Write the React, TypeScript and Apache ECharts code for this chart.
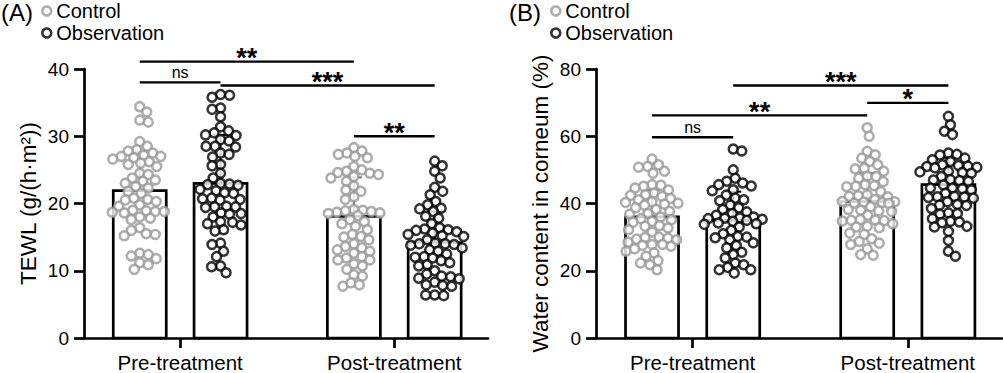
import React, { useEffect, useRef } from "react";
import * as echarts from "echarts";

// ---------- DATA ----------
const timepoints = ["Pre-treatment", "Post-treatment"];
const groupNames = ["Control", "Observation"];

// Panel A: TEWL g/(h·m²)
const tewlMeans = [21.9, 23.0, 18.1, 14.2]; // ctrl pre, obs pre, ctrl post, obs post
const tewlSD = [5.8, 7.2, 5.8, 4.6];
const tewlCtrlPre = [34.4, 33.6, 32.4, 32.1, 29.2, 28.5, 28.0, 27.8, 27.5, 27.2, 27.0, 27.0, 26.8, 26.6, 26.2, 26.0, 25.8, 25.5, 24.5, 24.3, 23.8, 23.5, 23.3, 23.0, 22.5, 22.3, 21.8, 21.5, 20.8, 20.6, 20.5, 20.3, 19.8, 19.6, 19.0, 18.9, 18.8, 18.8, 18.7, 18.6, 18.0, 17.8, 17.6, 16.4, 16.0, 15.5, 15.4, 15.2, 12.6, 12.4, 12.2, 11.8, 11.2, 10.9, 10.2];
const tewlObsPre = [36.2, 36.1, 35.8, 34.2, 34.0, 32.9, 31.4, 30.8, 30.5, 30.2, 30.1, 29.5, 29.3, 28.5, 28.5, 28.4, 27.5, 27.3, 26.9, 25.8, 25.6, 24.5, 23.8, 23.0, 22.9, 22.8, 22.7, 22.1, 21.9, 21.6, 21.5, 20.8, 20.7, 20.6, 20.5, 19.6, 19.5, 19.5, 19.4, 18.6, 18.5, 18.4, 18.0, 17.3, 17.2, 17.0, 16.8, 16.1, 15.9, 14.1, 13.9, 12.9, 12.1, 10.7, 10.6, 9.7];
const tewlCtrlPost = [28.3, 27.8, 27.5, 27.3, 27.0, 26.8, 25.5, 25.0, 24.8, 24.6, 24.5, 24.3, 24.0, 23.8, 23.3, 22.6, 22.0, 21.8, 21.0, 20.6, 19.1, 19.0, 18.9, 18.8, 18.7, 18.6, 18.5, 18.2, 17.6, 17.3, 17.0, 16.6, 16.1, 15.4, 15.1, 15.0, 14.6, 14.0, 13.6, 13.4, 13.1, 12.9, 12.6, 12.1, 11.9, 11.6, 11.6, 11.0, 10.7, 10.2, 9.4, 9.2, 8.2, 7.9, 7.7];
const tewlObsPost = [26.3, 25.6, 24.8, 23.8, 22.4, 21.8, 21.3, 20.3, 19.8, 19.3, 19.2, 18.8, 18.1, 17.8, 17.0, 16.4, 16.2, 16.1, 16.0, 15.8, 15.6, 15.4, 15.2, 15.1, 14.6, 14.1, 14.0, 14.0, 13.9, 13.8, 13.4, 13.1, 12.9, 12.5, 12.1, 12.0, 11.9, 11.5, 11.2, 10.9, 10.7, 10.0, 9.5, 9.2, 9.1, 8.9, 8.8, 8.3, 7.9, 7.8, 7.7, 6.4, 6.4, 6.3];

// Panel B: water content in corneum (%)
const waterMeans = [36.0, 35.0, 40.6, 45.6];
const waterSD = [8.0, 8.5, 8.5, 8.0];
const waterCtrlPre = [53.2, 51.5, 51.0, 50.8, 49.6, 49.0, 45.6, 45.4, 45.1, 44.6, 44.0, 43.1, 42.6, 42.4, 42.1, 41.5, 41.1, 40.5, 40.3, 40.1, 39.8, 39.5, 38.7, 38.2, 37.7, 37.0, 36.8, 36.0, 35.5, 35.2, 34.7, 34.4, 33.4, 33.2, 32.7, 32.2, 31.5, 30.0, 29.9, 29.7, 29.4, 29.2, 28.5, 27.8, 27.8, 27.5, 27.3, 26.5, 25.8, 25.3, 24.3, 23.0, 22.3, 21.8, 20.3];
const waterObsPre = [56.2, 55.6, 50.0, 47.5, 46.6, 46.1, 45.6, 45.2, 44.1, 43.8, 42.5, 41.6, 41.1, 40.8, 39.5, 38.7, 38.2, 37.5, 37.0, 36.5, 36.0, 35.7, 35.6, 35.5, 35.3, 35.0, 34.7, 34.2, 34.0, 33.8, 33.0, 32.0, 31.0, 30.2, 30.0, 29.8, 29.2, 28.3, 27.5, 26.8, 25.5, 24.8, 23.8, 22.3, 21.8, 21.0, 20.3, 20.3, 19.3];
const waterCtrlPost = [62.5, 60.0, 55.5, 54.5, 53.5, 52.5, 51.5, 50.5, 50.3, 49.6, 48.1, 48.0, 47.5, 46.5, 45.6, 45.3, 45.1, 45.0, 43.5, 42.6, 42.3, 42.1, 42.0, 41.2, 40.6, 40.5, 40.4, 40.3, 40.1, 40.0, 39.0, 38.2, 38.0, 37.8, 37.6, 36.5, 35.2, 35.1, 35.0, 34.9, 34.8, 34.0, 33.2, 33.0, 32.8, 31.2, 30.8, 29.5, 28.7, 28.2, 27.8, 26.5, 24.8, 24.6];
const waterObsPost = [65.9, 63.4, 61.5, 60.5, 55.0, 54.6, 54.4, 53.5, 53.0, 52.5, 51.5, 51.3, 51.1, 51.0, 50.8, 50.6, 49.6, 49.4, 49.2, 49.0, 48.0, 47.1, 47.0, 46.8, 46.6, 45.5, 44.6, 44.6, 44.4, 44.1, 43.0, 42.1, 42.0, 41.9, 41.8, 41.6, 40.5, 39.7, 39.5, 39.4, 38.5, 37.2, 37.0, 36.8, 35.5, 34.7, 34.5, 34.3, 33.2, 33.0, 31.7, 29.0, 25.8, 24.3];

// Significance brackets: from group index, to group index, height (axis value), label
const sigAFrom = [0, 0, 1, 2];
const sigATo = [2, 1, 3, 3];
const sigAY = [41.1, 38.0, 37.55, 30.0];
const sigALabel = ["**", "ns", "***", "**"];

const sigBFrom = [0, 0, 1, 2];
const sigBTo = [1, 2, 3, 3];
const sigBY = [59.7, 66.2, 75.1, 69.9];
const sigBLabel = ["ns", "**", "***", "*"];

// ---------- LAYOUT / STYLE ----------
const FONT = "'Liberation Sans', Arial, Helvetica, sans-serif";
const GRAY = "#999999";
const X_POS = [0.69, 1.69, 3.34, 4.34];
const X_TICKS = [1.19, 3.84];
const X_MAX = 5;
const GRID_H = 269;
const BAR_W = 53;
const CAP_W = 16;
const DOT_D = 9;

function swarm(vals: number[], pxY: number): number[] {
  const idx = vals.map((_, i) => i).sort((a, b) => vals[b] - vals[a]);
  const placed: { x: number; y: number }[] = [];
  const out = new Array(vals.length).fill(0);
  const MIN_D = 8.6;
  const MAX_HALF = 29;
  idx.forEach((i, n) => {
    const y = vals[i] * pxY;
    let best = 0;
    let bestScore = -1;
    let found = false;
    for (let k = 0; k <= MAX_HALF && !found; k += 0.5) {
      const cands = k === 0 ? [0] : n % 2 ? [k, -k] : [-k, k];
      for (const s of cands) {
        let minDist = Infinity;
        for (const p of placed) {
          const d = Math.hypot(p.x - s, p.y - y);
          if (d < minDist) minDist = d;
        }
        if (minDist >= MIN_D) {
          best = s;
          found = true;
          break;
        }
        if (minDist > bestScore) {
          bestScore = minDist;
          best = s;
        }
      }
    }
    out[i] = best;
    placed.push({ x: best, y });
  });
  return out;
}

function panelSeries(
  k: number,
  gridW: number,
  yMax: number,
  means: number[],
  sds: number[],
  pts: number[][],
  sFrom: number[],
  sTo: number[],
  sY: number[],
  sLabel: string[]
): any[] {
  const pxX = gridW / X_MAX;
  const pxY = GRID_H / yMax;
  const pointData = pts.map((vals, g) => {
    const offs = swarm(vals, pxY);
    return vals.map((v, i) => [X_POS[g] + offs[i] / pxX, v]);
  });
  return [
    {
      type: "custom",
      xAxisIndex: k,
      yAxisIndex: k,
      z: 1,
      clip: false,
      silent: true,
      data: means.map((m, i) => [X_POS[i], m]),
      renderItem: (params: any, api: any) => {
        const top = api.coord([api.value(0), api.value(1)]);
        const base = api.coord([api.value(0), 0]);
        return {
          type: "rect",
          shape: { x: top[0] - BAR_W / 2, y: top[1], width: BAR_W, height: base[1] - top[1] },
          style: { fill: "#fff", stroke: "#000", lineWidth: 2.7 },
        };
      },
    },
    {
      type: "custom",
      xAxisIndex: k,
      yAxisIndex: k,
      z: 2,
      clip: false,
      silent: true,
      data: means.map((m, i) => [X_POS[i], m, sds[i]]),
      renderItem: (params: any, api: any) => {
        const a = api.coord([api.value(0), api.value(1)]);
        const b = api.coord([api.value(0), api.value(1) + api.value(2)]);
        const col = params.dataIndex % 2 === 0 ? "#777" : "#000";
        return {
          type: "group",
          children: [
            { type: "line", shape: { x1: a[0], y1: a[1], x2: b[0], y2: b[1] }, style: { stroke: col, lineWidth: 2 } },
            { type: "line", shape: { x1: b[0] - CAP_W / 2, y1: b[1], x2: b[0] + CAP_W / 2, y2: b[1] }, style: { stroke: col, lineWidth: 2 } },
          ],
        };
      },
    },
    {
      type: "scatter",
      name: groupNames[0],
      xAxisIndex: k,
      yAxisIndex: k,
      z: 3,
      symbol: "circle",
      symbolSize: DOT_D,
      itemStyle: { color: "#fff", borderColor: GRAY, borderWidth: 2.5 },
      data: [...pointData[0], ...pointData[2]],
    },
    {
      type: "scatter",
      name: groupNames[1],
      xAxisIndex: k,
      yAxisIndex: k,
      z: 3,
      symbol: "circle",
      symbolSize: DOT_D,
      itemStyle: { color: "#fff", borderColor: "#000", borderWidth: 2.5 },
      data: [...pointData[1], ...pointData[3]],
    },
    {
      type: "custom",
      xAxisIndex: k,
      yAxisIndex: k,
      z: 4,
      clip: false,
      silent: true,
      data: sFrom.map((f, i) => [X_POS[f], X_POS[sTo[i]], sY[i]]),
      renderItem: (params: any, api: any) => {
        const p1 = api.coord([api.value(0), api.value(2)]);
        const p2 = api.coord([api.value(1), api.value(2)]);
        const label = sLabel[params.dataIndex];
        const star = label !== "ns";
        return {
          type: "group",
          children: [
            { type: "line", shape: { x1: p1[0], y1: p1[1], x2: p2[0], y2: p2[1] }, style: { stroke: "#000", lineWidth: 2.3 } },
            {
              type: "text",
              x: (p1[0] + p2[0]) / 2,
              y: star ? p1[1] + 10 : p1[1] - 2,
              style: {
                text: label,
                align: "center",
                verticalAlign: "bottom",
                fontFamily: FONT,
                fontSize: star ? 27 : 16,
                fontWeight: star ? "bold" : "normal",
                fill: "#000",
              },
            },
          ],
        };
      },
    },
  ];
}

function xAxis(k: number) {
  return {
    type: "value",
    gridIndex: k,
    min: 0,
    max: X_MAX,
    splitLine: { show: false },
    axisLine: { show: true, lineStyle: { color: "#000", width: 2.7 } },
    axisTick: { show: true, customValues: X_TICKS, length: 10, lineStyle: { color: "#000", width: 2.7 } },
    axisLabel: {
      customValues: X_TICKS,
      formatter: (v: number) => timepoints[Math.abs(v - X_TICKS[0]) < Math.abs(v - X_TICKS[1]) ? 0 : 1],
      color: "#000",
      fontSize: 20.5,
      fontFamily: FONT,
      margin: 14,
    },
  };
}

function yAxis(k: number, max: number, interval: number, name: string) {
  return {
    type: "value",
    gridIndex: k,
    min: 0,
    max,
    interval,
    name,
    nameLocation: "middle",
    nameRotate: 90,
    nameGap: 44,
    nameTextStyle: { color: "#000", fontSize: 22.5, fontFamily: FONT },
    splitLine: { show: false },
    axisLine: { show: true, lineStyle: { color: "#000", width: 2.7 } },
    axisTick: { show: true, length: 10, lineStyle: { color: "#000", width: 2.7 } },
    axisLabel: { color: "#000", fontSize: 19, fontFamily: FONT, margin: 15 },
  };
}

function legend(left: number) {
  return {
    left,
    top: 1,
    orient: "vertical",
    padding: 0,
    itemGap: 2,
    itemWidth: 9,
    itemHeight: 9,
    icon: "circle",
    selectedMode: false,
    data: groupNames,
    itemStyle: { borderWidth: 2.6 },
    textStyle: { color: "#000", fontSize: 20, fontFamily: FONT },
  };
}

export default function App() {
  const ref = useRef<HTMLDivElement>(null);
  useEffect(() => {
    document.body.style.margin = "0";
    if (!ref.current) return;
    const chart = echarts.init(ref.current, undefined, { renderer: "svg" });
    const gwA = 404;
    const gwB = 406;
    chart.setOption({
      animation: false,
      backgroundColor: "#fff",
      textStyle: { fontFamily: FONT },
      grid: [
        { left: 84, top: 69, width: gwA, height: GRID_H },
        { left: 596, top: 69, width: gwB, height: GRID_H },
      ],
      legend: [legend(41), legend(550)],
      xAxis: [xAxis(0), xAxis(1)],
      yAxis: [yAxis(0, 40, 10, "TEWL (g/(h·m²))"), yAxis(1, 80, 20, "Water content in corneum (%)")],
      graphic: [
        { type: "text", left: 1, top: 0, style: { text: "(A)", fontSize: 24, fontFamily: FONT, fill: "#000" } },
        { type: "text", left: 509, top: 0, style: { text: "(B)", fontSize: 24, fontFamily: FONT, fill: "#000" } },
      ],
      series: [
        ...panelSeries(0, gwA, 40, tewlMeans, tewlSD, [tewlCtrlPre, tewlObsPre, tewlCtrlPost, tewlObsPost], sigAFrom, sigATo, sigAY, sigALabel),
        ...panelSeries(1, gwB, 80, waterMeans, waterSD, [waterCtrlPre, waterObsPre, waterCtrlPost, waterObsPost], sigBFrom, sigBTo, sigBY, sigBLabel),
      ],
    });
    return () => chart.dispose();
  }, []);
  return <div ref={ref} style={{ width: 1003, height: 373 }} />;
}
